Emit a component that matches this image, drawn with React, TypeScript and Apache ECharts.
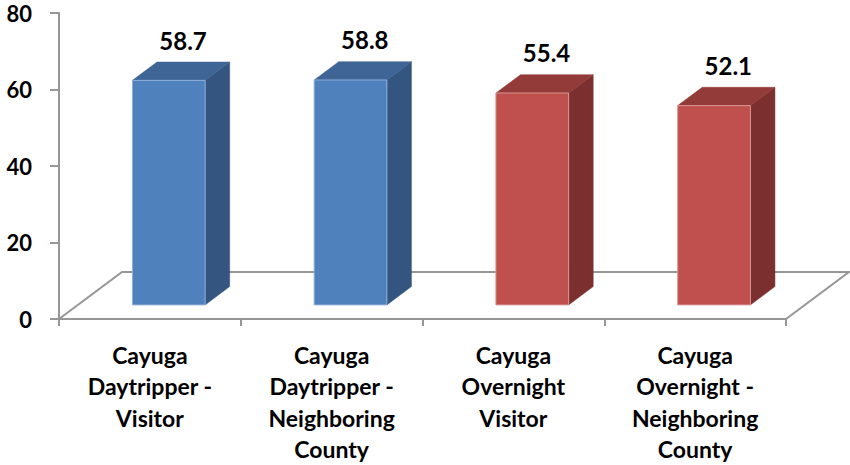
import React, { useEffect, useRef } from "react";
import * as echarts from "echarts";

const categories = [
  "Cayuga\nDaytripper -\nVisitor",
  "Cayuga\nDaytripper -\nNeighboring\nCounty",
  "Cayuga\nOvernight\nVisitor",
  "Cayuga\nOvernight -\nNeighboring\nCounty",
];
const values = [58.7, 58.8, 55.4, 52.1];
const groups = ["Daytripper", "Daytripper", "Overnight", "Overnight"];
const yTicks = { min: 0, max: 80, interval: 20 };

const palette: Record<string, { front: string; side: string; top: string; edge: string }> = {
  Daytripper: { front: "#4F81BD", side: "#34557F", top: "#3E6595", edge: "#8FAFD8" },
  Overnight: { front: "#C0504D", side: "#7B2F2E", top: "#933B39", edge: "#D99694" },
};

const DX = 63;
const DY = 47;
const FRONT = 0.3;
const BACK = 0.69;
const FONT = "Lato, 'Open Sans', sans-serif";

export default function App() {
  const ref = useRef<HTMLDivElement>(null);
  useEffect(() => {
    if (!ref.current) return;
    const chart = echarts.init(ref.current, undefined, { renderer: "svg" });
    const option: any = {
      animation: false,
      grid: { left: 59, right: 64, top: 13, bottom: 145, containLabel: false },
      xAxis: {
        type: "category",
        data: categories,
        boundaryGap: true,
        axisLine: { show: true, lineStyle: { color: "#969696", width: 2 } },
        axisTick: { show: true, length: 7, lineStyle: { color: "#969696", width: 2 } },
        axisLabel: {
          interval: 0,
          margin: 20,
          color: "#000",
          fontFamily: FONT,
          fontWeight: "bold",
          fontSize: 23,
          lineHeight: 31.5,
        },
        splitLine: { show: false },
      },
      yAxis: {
        type: "value",
        min: yTicks.min,
        max: yTicks.max,
        interval: yTicks.interval,
        axisLine: { show: true, lineStyle: { color: "#969696", width: 2 } },
        axisTick: { show: true, length: 9, lineStyle: { color: "#969696", width: 2 } },
        axisLabel: {
          margin: 27,
          color: "#000",
          fontFamily: FONT,
          fontWeight: "bold",
          fontSize: 22,
        },
        splitLine: { show: false },
      },
      series: [
        {
          type: "custom",
          z: 1,
          silent: true,
          clip: false,
          data: [[0]],
          renderItem: (params: any) => {
            const cs = params.coordSys;
            const x0 = cs.x;
            const x1 = cs.x + cs.width;
            const yb = cs.y + cs.height;
            return {
              type: "polyline",
              shape: {
                points: [
                  [x0, yb],
                  [x0 + DX, yb - DY],
                  [x1 + DX, yb - DY],
                  [x1, yb],
                ],
              },
              style: { stroke: "#969696", lineWidth: 2, fill: "none" },
            };
          },
        },
        {
          type: "custom",
          z: 2,
          clip: false,
          data: values.map((v, i) => [i, v]),
          renderItem: (params: any, api: any) => {
            const i = api.value(0);
            const v = api.value(1);
            const base = api.coord([i, 0]);
            const top = api.coord([i, v]);
            const band = api.size([1, 0])[0];
            const w = band * 0.4;
            const c = palette[groups[i]];
            const fx = base[0] - w / 2 + FRONT * DX;
            const fyB = base[1] - FRONT * DY;
            const fyT = top[1] - FRONT * DY;
            const bx = base[0] - w / 2 + BACK * DX;
            const byB = base[1] - BACK * DY;
            const byT = top[1] - BACK * DY;
            const label = String(v);
            return {
              type: "group",
              children: [
                {
                  type: "polygon",
                  shape: { points: [[fx + w, fyB], [fx + w, fyT], [bx + w, byT], [bx + w, byB]] },
                  style: { fill: c.side, stroke: c.side, lineWidth: 0.5 },
                },
                {
                  type: "polygon",
                  shape: { points: [[fx, fyT], [fx + w, fyT], [bx + w, byT], [bx, byT]] },
                  style: { fill: c.top, stroke: c.top, lineWidth: 0.5 },
                },
                {
                  type: "rect",
                  shape: { x: fx, y: fyT, width: w, height: fyB - fyT },
                  style: { fill: c.front, stroke: c.edge, lineWidth: 1 },
                },
                {
                  type: "text",
                  x: (fx + bx + w) / 2 + 2,
                  y: byT - 10,
                  style: {
                    text: label,
                    fill: "#000",
                    font: `bold 24px ${FONT}`,
                    textAlign: "center",
                    textVerticalAlign: "bottom",
                  },
                },
              ],
            };
          },
        },
      ],
    };
    chart.setOption(option);
    return () => chart.dispose();
  }, []);
  return <div ref={ref} style={{ width: 850, height: 465, position: "absolute", left: 0, top: 0 }} />;
}
